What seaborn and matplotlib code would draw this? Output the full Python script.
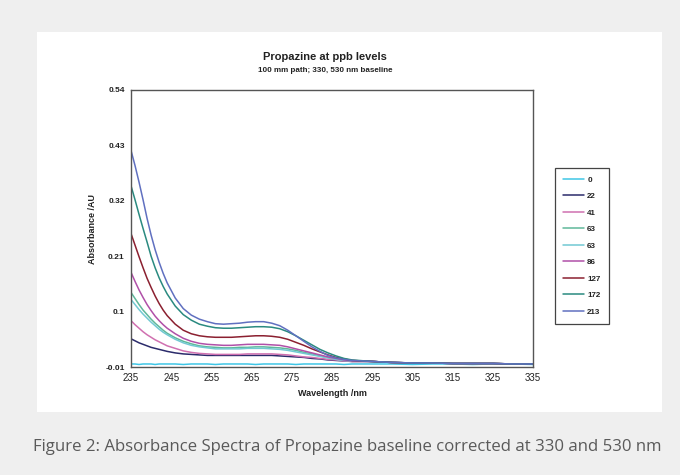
import matplotlib
matplotlib.use("Agg")
import matplotlib.pyplot as plt
from matplotlib.patches import Rectangle
from matplotlib.lines import Line2D
import numpy as np
import pandas as pd
import seaborn as sns

# ---------------- data ----------------
wavelength = [235, 236, 237, 238, 239, 240, 241, 242, 243, 244,
              246, 248, 250, 252, 254, 256, 258, 260, 262, 264, 266, 268,
              270, 272, 274, 276, 278, 280, 282, 284, 286, 288, 290,
              295, 300, 305, 310, 315, 320, 325, 330, 335]

series_labels = ["0", "22", "41", "63", "63", "86", "127", "172", "213"]
series_colors = ["#3fc6e6", "#2b2b6b", "#d070b0", "#5fb89a", "#72c9d3",
                 "#b050a8", "#8b2030", "#2a8a80", "#6070c0"]

tail = [0.001, -0.001, -0.002, -0.002, -0.003, -0.003, -0.003, -0.004, -0.004]

abs_0 = [-0.004, -0.004, -0.005, -0.004, -0.004, -0.004, -0.005, -0.004, -0.004, -0.004,
         -0.004, -0.005, -0.004, -0.004, -0.004, -0.005, -0.004, -0.004, -0.004, -0.004,
         -0.005, -0.004, -0.004, -0.004, -0.004, -0.005, -0.004, -0.004, -0.004, -0.004,
         -0.004, -0.005, -0.004, -0.004, -0.004, -0.005, -0.004, -0.004, -0.005, -0.004,
         -0.004, -0.005]
abs_22 = [0.046, 0.042, 0.038, 0.035, 0.032, 0.029, 0.027, 0.025, 0.023, 0.021,
          0.018, 0.016, 0.015, 0.014, 0.013, 0.013, 0.013, 0.013, 0.013, 0.013, 0.013, 0.013,
          0.013, 0.012, 0.011, 0.010, 0.009, 0.007, 0.006, 0.004, 0.003, 0.002, 0.001] + tail
abs_41 = [0.082, 0.074, 0.067, 0.060, 0.054, 0.049, 0.044, 0.040, 0.036, 0.032,
          0.027, 0.022, 0.019, 0.017, 0.016, 0.015, 0.015, 0.015, 0.015, 0.016, 0.016, 0.016,
          0.016, 0.015, 0.014, 0.012, 0.010, 0.009, 0.007, 0.005, 0.004, 0.002, 0.001] + tail
abs_63a = [0.138, 0.126, 0.114, 0.103, 0.094, 0.085, 0.077, 0.070, 0.063, 0.057,
           0.048, 0.041, 0.036, 0.032, 0.030, 0.029, 0.028, 0.028, 0.029, 0.029, 0.030, 0.030,
           0.029, 0.028, 0.026, 0.023, 0.019, 0.016, 0.012, 0.009, 0.006, 0.004, 0.002] + tail
abs_63b = [0.124, 0.114, 0.104, 0.095, 0.087, 0.079, 0.072, 0.065, 0.059, 0.054,
           0.045, 0.038, 0.033, 0.030, 0.028, 0.026, 0.026, 0.026, 0.026, 0.027, 0.027, 0.027,
           0.026, 0.025, 0.023, 0.020, 0.017, 0.014, 0.011, 0.008, 0.005, 0.003, 0.002] + tail
abs_86 = [0.178, 0.160, 0.143, 0.128, 0.114, 0.102, 0.091, 0.082, 0.074, 0.067,
          0.056, 0.047, 0.041, 0.037, 0.035, 0.034, 0.033, 0.033, 0.034, 0.035, 0.035, 0.035,
          0.034, 0.033, 0.030, 0.026, 0.022, 0.018, 0.014, 0.010, 0.007, 0.004, 0.002] + tail
abs_127 = [0.255, 0.232, 0.209, 0.187, 0.166, 0.148, 0.131, 0.116, 0.103, 0.092,
           0.075, 0.063, 0.056, 0.052, 0.050, 0.049, 0.049, 0.049, 0.050, 0.051, 0.052, 0.052,
           0.051, 0.049, 0.045, 0.039, 0.033, 0.026, 0.020, 0.014, 0.009, 0.006, 0.003] + tail
abs_172 = [0.350, 0.322, 0.293, 0.265, 0.238, 0.210, 0.187, 0.167, 0.150, 0.135,
           0.111, 0.094, 0.083, 0.075, 0.071, 0.068, 0.067, 0.067, 0.068, 0.069, 0.070, 0.070,
           0.069, 0.066, 0.060, 0.052, 0.043, 0.034, 0.025, 0.018, 0.012, 0.007, 0.004] + tail
abs_213 = [0.420, 0.390, 0.357, 0.322, 0.285, 0.252, 0.223, 0.198, 0.176, 0.157,
           0.127, 0.106, 0.093, 0.085, 0.080, 0.076, 0.075, 0.076, 0.077, 0.079, 0.080, 0.080,
           0.077, 0.072, 0.063, 0.052, 0.041, 0.030, 0.021, 0.013, 0.008, 0.005, 0.003] + tail

series_values = [abs_0, abs_22, abs_41, abs_63a, abs_63b, abs_86, abs_127, abs_172, abs_213]

x_ticks = [235, 245, 255, 265, 275, 285, 295, 305, 315, 325, 335]
y_ticks = [-0.01, 0.1, 0.21, 0.32, 0.43, 0.54]
y_tick_labels = ["-0.01", "0.1", "0.21", "0.32", "0.43", "0.54"]

title = "Propazine at ppb levels"
subtitle = "100 mm path; 330, 530 nm baseline"
x_label = "Wavelength /nm"
y_label = "Absorbance /AU"
caption = "Figure 2: Absorbance Spectra of Propazine baseline corrected at 330 and 530 nm"

# ---------------- table ----------------
rows = []
for i, vals in enumerate(series_values):
    for w, v in zip(wavelength, vals):
        rows.append({"wl": w, "abs": v, "key": f"s{i}"})
df = pd.DataFrame(rows)
palette = {f"s{i}": c for i, c in enumerate(series_colors)}

# ---------------- figure ----------------
sns.set_theme(style="white")
plt.rcParams["font.family"] = ["Liberation Sans", "DejaVu Sans"]

fig = plt.figure(figsize=(6.8, 4.75), dpi=100)
fig.patch.set_facecolor("#efefef")
fig.patches.append(Rectangle((37 / 680, 1 - 412 / 475), 625 / 680, 380 / 475,
                             transform=fig.transFigure, facecolor="white",
                             edgecolor="none", zorder=-5))

ax = fig.add_axes([131 / 680, 1 - 367 / 475, 402 / 680, 277 / 475])
ax.set_facecolor("white")
sns.lineplot(data=df, x="wl", y="abs", hue="key", palette=palette,
             estimator=None, sort=False, legend=False, linewidth=1.1, ax=ax)

ax.set_xlim(235, 335)
ax.set_ylim(-0.01, 0.54)
ax.set_xticks(x_ticks)
ax.set_xticklabels([str(t) for t in x_ticks], fontsize=7, color="#222222")
ax.set_yticks(y_ticks)
ax.set_yticklabels(y_tick_labels, fontsize=6, fontweight="bold", color="#222222")
ax.tick_params(axis="both", direction="out", length=3, width=0.8, color="#444444", pad=1.5)
for s in ax.spines.values():
    s.set_color("#555555")
    s.set_linewidth(1.0)
    s.set_visible(True)
ax.set_xlabel(x_label, fontsize=6.5, fontweight="bold", color="#222222", labelpad=4)
ax.set_ylabel(y_label, fontsize=6.5, fontweight="bold", color="#222222", labelpad=6)

fig.text(325 / 680, 1 - 57 / 475, title, ha="center", va="center",
         fontsize=8, fontweight="bold", color="#222222")
fig.text(325 / 680, 1 - 71 / 475, subtitle, ha="center", va="center",
         fontsize=5.8, fontweight="bold", color="#222222")

handles = [Line2D([], [], color=c, linewidth=1.1) for c in series_colors]
leg = fig.legend(handles, series_labels, loc="upper left",
                 bbox_to_anchor=(555 / 680, 1 - 168 / 475),
                 bbox_transform=fig.transFigure,
                 frameon=True, fancybox=False, framealpha=1,
                 edgecolor="#444444", fontsize=5.8, handlelength=2.6,
                 handletextpad=0.4, labelspacing=1.1, borderpad=1.0,
                 borderaxespad=0)
leg.get_frame().set_linewidth(0.9)
for t in leg.get_texts():
    t.set_fontweight("bold")
    t.set_color("#222222")

fig.text(347.5 / 680, 1 - 447 / 475, caption, ha="center", va="center",
         fontsize=12.1, color="#5a5a5a", family=["Open Sans", "DejaVu Sans"])

fig.savefig("out.png", dpi=100, facecolor=fig.get_facecolor())
